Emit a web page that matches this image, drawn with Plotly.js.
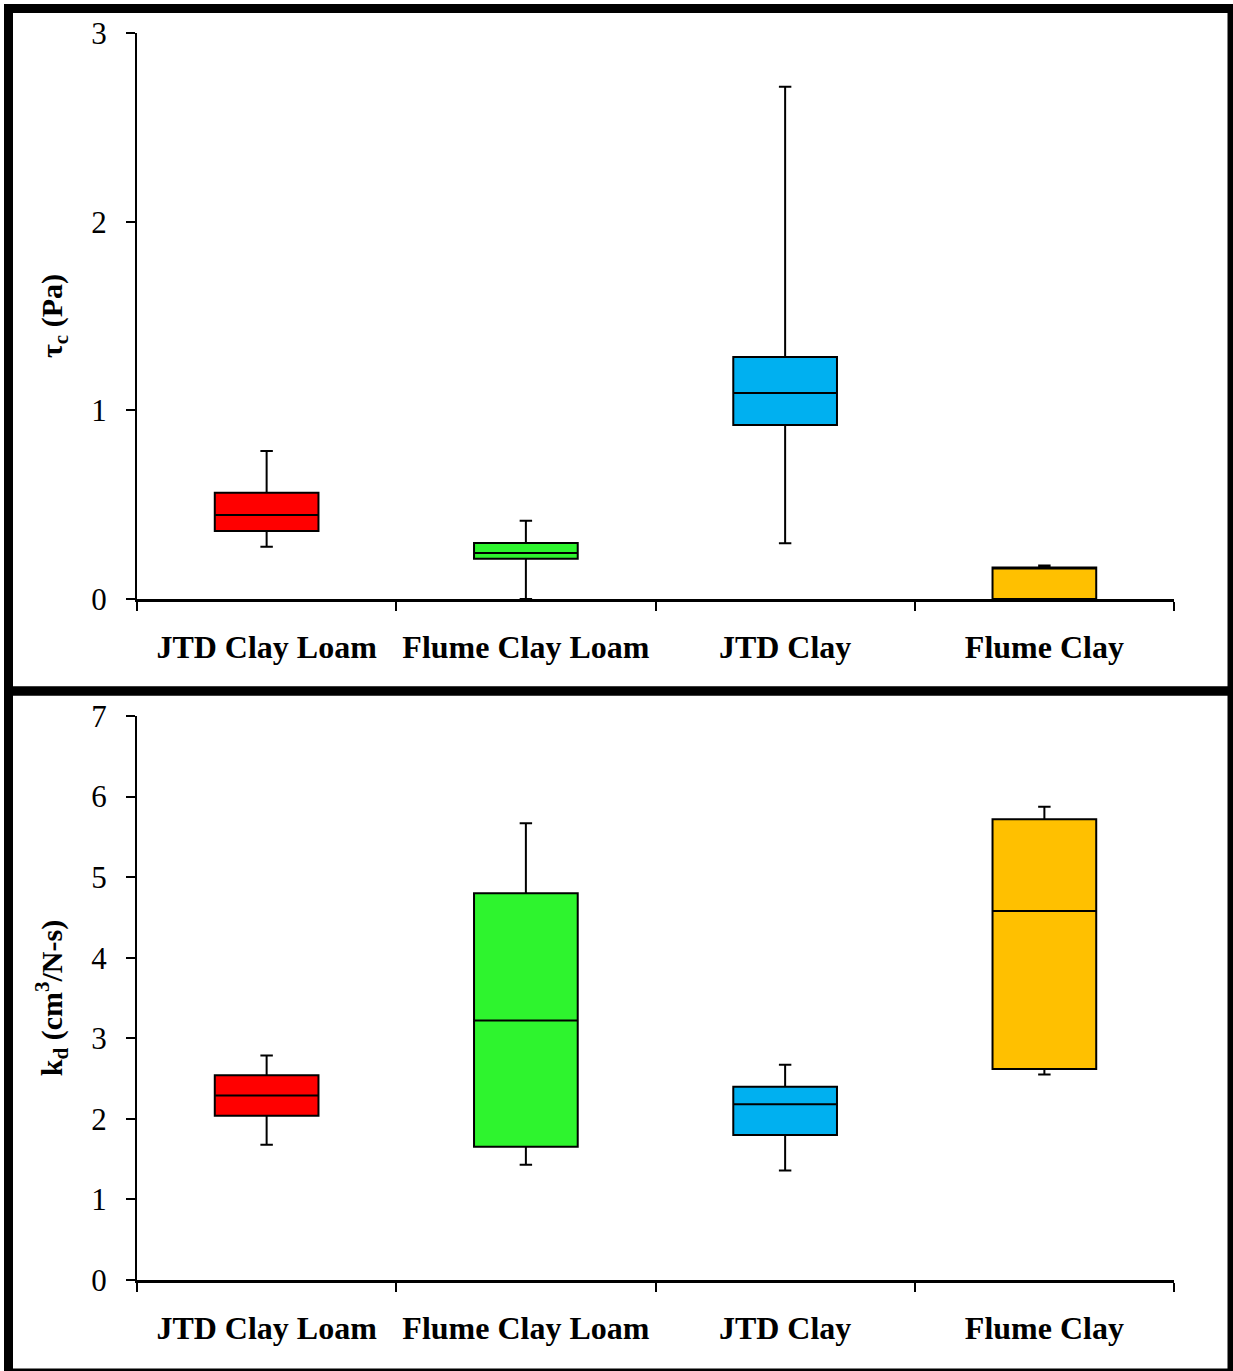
<!DOCTYPE html>
<html>
<head>
<meta charset="utf-8">
<script src="https://cdn.plot.ly/plotly-3.0.1.min.js"></script>
<style>
  html, body { margin: 0; padding: 0; background: #ffffff; }
  #chart { width: 1233px; height: 1371px; }
</style>
</head>
<body>
<div id="chart"></div>
<script>
// Soil groups shown along both x axes
const categories = ["JTD Clay Loam", "Flume Clay Loam", "JTD Clay", "Flume Clay"];
const boxColors = ["#ff0000", "#2ef42e", "#00b0f0", "#ffc000"];

// Critical shear stress, tau_c (Pa): five-number summaries
const tauLower  = [0.277, 0.000, 0.296, 0.000];
const tauQ1     = [0.361, 0.214, 0.922, 0.000];
const tauMedian = [0.445, 0.244, 1.092, 0.163];
const tauQ3     = [0.563, 0.297, 1.283, 0.167];
const tauUpper  = [0.784, 0.415, 2.715, 0.178];

// Erodibility coefficient, k_d (cm^3/N-s): five-number summaries
const kdLower  = [1.68, 1.43, 1.36, 2.55];
const kdQ1     = [2.04, 1.655, 1.80, 2.62];
const kdMedian = [2.29, 3.22, 2.18, 4.58];
const kdQ3     = [2.54, 4.80, 2.40, 5.72];
const kdUpper  = [2.785, 5.67, 2.67, 5.875];

const W = 1233, H = 1371;
const px = v => v / W;
const py = v => 1 - v / H;

function boxTraces(lower, q1, med, q3, upper, xa, ya) {
  return categories.map((c, i) => ({
    type: "box",
    x: [c],
    lowerfence: [lower[i]],
    q1: [q1[i]],
    median: [med[i]],
    q3: [q3[i]],
    upperfence: [upper[i]],
    width: 0.4,
    whiskerwidth: 0.12,
    fillcolor: boxColors[i],
    line: { color: "#000000", width: 2 },
    marker: { color: "#000000" },
    boxpoints: false,
    hoverinfo: "skip",
    showlegend: false,
    xaxis: xa,
    yaxis: ya
  }));
}

const data = [
  ...boxTraces(tauLower, tauQ1, tauMedian, tauQ3, tauUpper, "x", "y"),
  ...boxTraces(kdLower, kdQ1, kdMedian, kdQ3, kdUpper, "x2", "y2")
];

const serif = "Liberation Serif, Times New Roman, serif";

function xAxis(anchor) {
  return {
    type: "category",
    categoryorder: "array",
    categoryarray: categories,
    range: [-0.5, 3.5],
    domain: [px(137), px(1174)],
    anchor: anchor,
    showline: true,
    linecolor: "#000000",
    linewidth: 3,
    ticks: "outside",
    tickson: "boundaries",
    ticklen: 9,
    tickwidth: 2,
    tickcolor: "#000000",
    ticklabelstandoff: 18,
    tickfont: { family: serif, size: 32, color: "#000000", weight: "bold" },
    showgrid: false,
    zeroline: false,
    fixedrange: true,
    automargin: false
  };
}

function yAxis(anchor, domain, maxV, titleText) {
  return {
    domain: domain,
    anchor: anchor,
    range: [0, maxV],
    dtick: 1,
    tick0: 0,
    showline: true,
    linecolor: "#000000",
    linewidth: 2,
    ticks: "outside",
    ticklen: 9,
    tickwidth: 2,
    tickcolor: "#000000",
    ticklabelstandoff: 13,
    tickfont: { family: serif, size: 31, color: "#000000" },
    showgrid: false,
    zeroline: false,
    fixedrange: true,
    automargin: false,
    title: {
      text: titleText,
      font: { family: serif, size: 30, color: "#000000", weight: "bold" },
      standoff: 20
    }
  };
}

const layout = {
  width: W,
  height: H,
  margin: { l: 0, r: 0, t: 0, b: 0 },
  paper_bgcolor: "#ffffff",
  plot_bgcolor: "#ffffff",
  boxmode: "overlay",
  showlegend: false,
  font: { family: serif, color: "#000000" },
  xaxis: xAxis("y"),
  yaxis: yAxis("x", [py(599), py(33)], 3, "τ<sub>c</sub> (Pa)"),
  xaxis2: xAxis("y2"),
  yaxis2: yAxis("x2", [py(1280), py(716)], 7, "k<sub>d</sub> (cm<sup>3</sup>/N-s)"),
  shapes: [
    {
      type: "rect", xref: "paper", yref: "paper",
      x0: px(8.5), x1: px(1232), y0: py(691), y1: py(8.5),
      line: { color: "#000000", width: 9 }, fillcolor: "rgba(0,0,0,0)"
    },
    {
      type: "rect", xref: "paper", yref: "paper",
      x0: px(8.5), x1: px(1232), y0: py(1373), y1: py(691),
      line: { color: "#000000", width: 9 }, fillcolor: "rgba(0,0,0,0)"
    }
  ]
};

Plotly.newPlot("chart", data, layout, { staticPlot: true, displayModeBar: false });
</script>
</body>
</html>
